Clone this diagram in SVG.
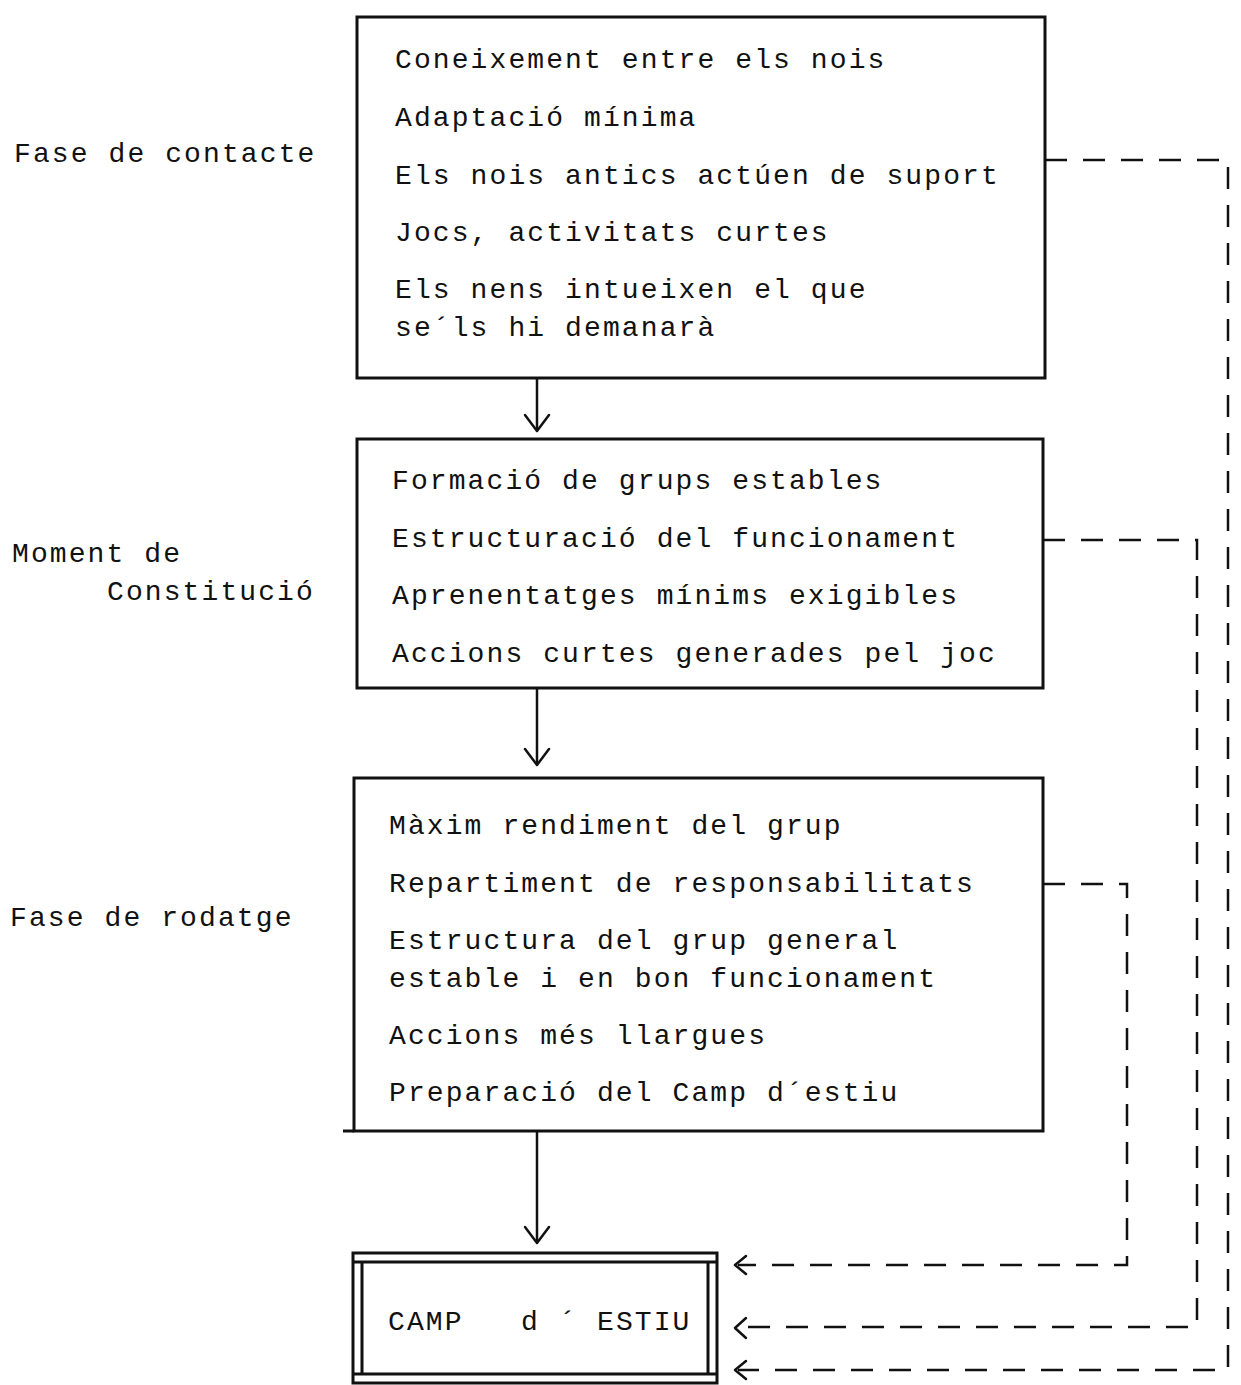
<svg xmlns="http://www.w3.org/2000/svg" width="1241" height="1385" viewBox="0 0 1241 1385">
  <style>
    .t { font-family: "Liberation Mono", "DejaVu Sans Mono", monospace; font-size: 28px; letter-spacing: 2.1px; fill: #111; }
    .box { fill: none; stroke: #111; stroke-width: 3; }
    .flow { fill: none; stroke: #111; stroke-width: 2.5; }
    .dash { fill: none; stroke: #111; stroke-width: 2.5; stroke-dasharray: 22 16; }
    .head { fill: none; stroke: #111; stroke-width: 2.5; stroke-linecap: round; stroke-linejoin: round; }
  </style>
  <rect width="1241" height="1385" fill="#fff"/>

  <!-- phase labels -->
  <g id="label-contacte"><text class="t" x="14" y="162">Fase de contacte</text></g>
  <g id="label-constitucio">
    <text class="t" x="12" y="562">Moment de</text>
    <text class="t" x="107" y="600">Constitució</text>
  </g>
  <g id="label-rodatge"><text class="t" x="10" y="926">Fase de rodatge</text></g>

  <!-- phase 1 -->
  <g id="box-contacte">
    <rect class="box" x="357" y="17" width="688" height="361"/>
    <text class="t" x="395" y="68">Coneixement entre els nois</text>
    <text class="t" x="395" y="126">Adaptació mínima</text>
    <text class="t" x="395" y="184">Els nois antics actúen de suport</text>
    <text class="t" x="395" y="241">Jocs, activitats curtes</text>
    <text class="t" x="395" y="298">Els nens intueixen el que</text>
    <text class="t" x="395" y="336">se´ls hi demanarà</text>
  </g>

  <!-- phase 2 -->
  <g id="box-constitucio">
    <rect class="box" x="357" y="439" width="686" height="249"/>
    <text class="t" x="392" y="489">Formació de grups estables</text>
    <text class="t" x="392" y="547">Estructuració del funcionament</text>
    <text class="t" x="392" y="604">Aprenentatges mínims exigibles</text>
    <text class="t" x="392" y="662">Accions curtes generades pel joc</text>
  </g>

  <!-- phase 3 -->
  <g id="box-rodatge">
    <rect class="box" x="354" y="778" width="689" height="353"/>
    <path class="box" d="M343 1131 H354"/>
    <text class="t" x="389" y="834">Màxim rendiment del grup</text>
    <text class="t" x="389" y="892">Repartiment de responsabilitats</text>
    <text class="t" x="389" y="949">Estructura del grup general</text>
    <text class="t" x="389" y="987">estable i en bon funcionament</text>
    <text class="t" x="389" y="1044">Accions més llargues</text>
    <text class="t" x="389" y="1101">Preparació del Camp d´estiu</text>
  </g>

  <!-- summer camp: double-ruled frame -->
  <g id="box-camp">
    <rect class="box" x="353" y="1253" width="364" height="130"/>
    <path class="box" d="M362 1262 V1374 M708 1262 V1374 M353 1262 H717 M353 1374 H717"/>
    <text class="t" x="388" y="1330">CAMP</text>
    <text class="t" x="521" y="1330">d</text>
    <text class="t" x="559" y="1330">´</text>
    <text class="t" x="597" y="1330">ESTIU</text>
  </g>

  <!-- connectors -->
  <g id="connectors">
    <path class="flow" d="M537 378 V430"/>
    <path class="head" d="M525 415 L537 431 L549 415"/>
    <path class="flow" d="M537 688 V764"/>
    <path class="head" d="M525 749 L537 765 L549 749"/>
    <path class="flow" d="M537 1131 V1242"/>
    <path class="head" d="M525 1227 L537 1243 L549 1227"/>

    <path class="dash" d="M1045 160 H1228 V1370 H738"/>
    <path class="dash" d="M1043 540 H1197 V1327 H738"/>
    <path class="dash" d="M1043 884 H1127 V1265 H738"/>
    <path class="head" d="M746 1256 L735 1265 L746 1274"/>
    <path class="head" d="M746 1318 L735 1328 L746 1338"/>
    <path class="head" d="M746 1361 L735 1370 L746 1379"/>
  </g>
</svg>
